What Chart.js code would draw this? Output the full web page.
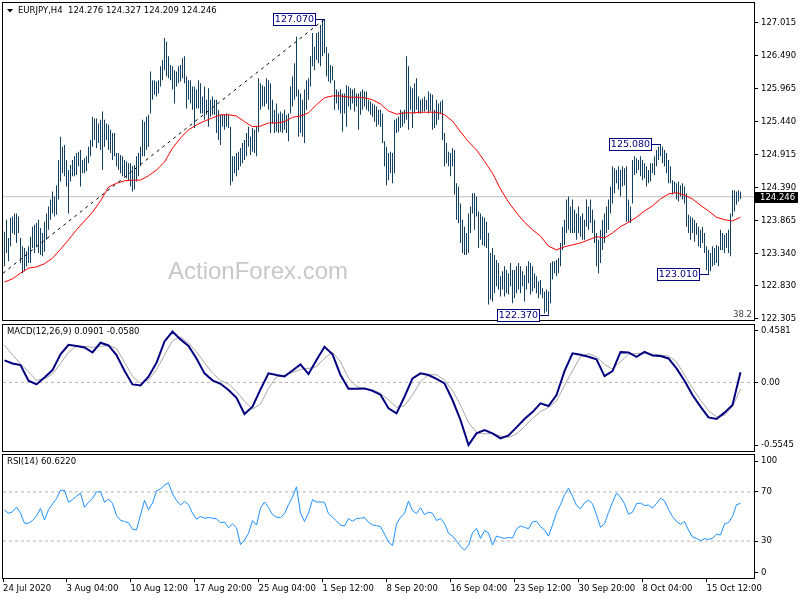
<!DOCTYPE html>
<html lang="en">
<head>
<meta charset="UTF-8">
<title>EURJPY H4</title>
<script src="https://cdn.jsdelivr.net/npm/chart.js@4.4.0/dist/chart.umd.min.js"></script>
<style>
  html, body { margin: 0; padding: 0; background: #fff; }
  #wrap { position: relative; width: 800px; height: 600px; overflow: hidden; }
  canvas { position: absolute; left: 0; }
</style>
</head>
<body>
<div id="wrap">
  <canvas id="main" width="800" height="323" style="top:0px"></canvas>
  <canvas id="macd" width="800" height="132" style="top:322px"></canvas>
  <canvas id="rsi" width="800" height="148" style="top:452px"></canvas>
</div>
<script>
// EURJPY H4 bars (one bar per entry)
const highs = [
  123.69,123.88,123.59,123.91,123.93,123.98,123.98,123.93,123.59,123.46,
  123.43,123.38,123.46,123.61,123.77,123.80,123.83,123.88,123.75,123.67,
  123.85,123.98,124.09,124.20,124.33,124.25,124.43,124.83,125.20,125.04,
  125.07,124.83,124.67,124.75,124.83,124.89,124.94,124.96,124.99,124.83,
  124.86,124.89,125.04,125.15,125.52,125.49,125.49,125.41,125.47,125.60,
  125.47,125.41,125.39,125.31,125.26,125.26,124.94,124.94,124.91,124.89,
  124.83,124.81,124.78,124.78,124.73,124.75,124.89,124.94,125.04,125.47,
  125.44,125.52,125.55,126.24,126.10,126.10,126.08,126.10,126.32,126.42,
  126.77,126.71,126.48,126.34,126.32,126.26,126.24,126.32,126.34,126.45,
  126.48,126.16,126.10,126.10,126.00,126.00,125.95,126.10,126.05,125.84,
  126.00,125.79,125.97,125.79,125.84,125.79,125.79,125.63,125.55,125.55,
  125.55,125.57,125.55,125.36,124.89,124.89,124.94,124.96,125.02,125.10,
  125.15,125.26,125.36,125.20,125.34,125.31,125.36,126.13,126.05,126.02,
  126.00,126.13,126.10,126.05,125.79,125.63,125.73,125.57,
  125.60,125.57,125.63,125.55,125.57,126.00,126.16,126.37,126.79,125.95,
  125.89,125.79,125.95,126.10,126.13,126.48,126.85,126.63,126.85,126.87,
  126.98,127.06,127.07,126.63,126.53,126.34,126.32,126.10,125.95,125.92,
  125.95,125.89,125.89,126.02,126.00,125.97,125.95,125.97,125.89,125.89,
  125.92,125.95,125.92,125.92,125.79,125.76,125.73,125.71,125.68,125.63,
  125.63,125.57,125.13,125.04,124.94,124.96,124.94,125.47,125.49,125.52,
  125.63,125.60,125.63,126.48,126.32,126.00,125.97,126.05,126.13,125.84,
  125.79,125.81,125.84,125.79,125.92,125.89,125.87,125.63,125.79,125.73,
  125.76,125.79,125.26,125.10,124.96,124.94,125.02,124.99,124.46,124.41,
  124.14,123.88,123.77,123.67,123.98,124.09,124.30,124.30,124.25,124.01,
  123.98,123.93,123.91,123.85,123.67,123.35,123.43,123.32,123.24,123.19,
  122.98,123.06,123.14,123.08,123.03,123.19,123.08,123.08,123.14,123.19,
  123.14,123.06,123.00,123.14,123.22,123.19,123.14,123.03,122.98,122.90,
  122.92,122.79,122.74,122.77,122.74,123.19,123.22,123.22,123.24,123.27,
  123.51,123.77,123.88,
  124.20,124.25,124.09,124.20,124.04,123.98,124.09,123.93,123.98,123.88,
  124.20,124.09,124.20,124.04,123.88,123.67,123.56,123.72,123.88,123.98,
  124.09,124.20,124.41,124.73,124.70,124.67,124.73,124.67,124.73,124.70,
  124.73,124.20,124.09,124.83,124.89,124.86,124.83,124.89,124.83,124.78,
  124.73,124.67,124.78,124.78,124.89,124.99,125.04,125.08,125.04,124.99,
  124.94,124.83,124.73,124.51,124.49,124.46,124.49,124.43,124.46,124.41,
  124.30,123.96,123.93,123.91,123.88,123.83,123.77,123.72,123.77,123.67,
  123.46,123.40,123.35,123.46,123.43,123.48,123.46,123.72,123.67,123.64,
  123.67,123.72,123.98,124.35,124.35,124.33,124.35,124.327
];
const lows = [
  123.14,123.35,123.22,123.46,123.67,123.64,123.51,123.67,123.19,123.03,
  123.06,123.14,123.19,123.19,123.43,123.35,123.46,123.35,123.32,123.30,
  123.37,123.56,123.72,123.88,123.98,123.93,123.96,124.20,124.49,124.62,
  124.57,124.41,123.98,124.49,124.57,124.57,124.59,124.73,124.41,124.62,
  124.62,124.65,124.78,124.89,125.04,125.15,125.02,125.10,124.99,124.67,
  125.04,125.15,124.99,124.94,124.83,124.89,124.73,124.67,124.62,124.57,
  124.57,124.54,124.51,124.41,124.33,124.36,124.49,124.57,124.73,124.89,
  124.89,124.99,125.04,125.57,125.79,125.87,125.84,125.89,126.00,126.10,
  126.26,126.16,126.13,126.10,125.95,125.73,126.00,126.05,126.08,126.13,
  126.05,125.65,125.79,125.73,125.63,125.34,125.65,125.65,125.57,125.57,
  125.47,125.55,125.36,125.52,125.55,125.55,125.26,125.15,125.07,125.36,
  125.31,125.36,125.34,124.43,124.49,124.62,124.57,124.67,124.73,124.78,
  124.83,124.89,125.04,124.91,124.96,124.94,124.89,125.28,125.63,125.68,
  125.68,125.73,125.63,125.26,125.41,125.26,125.28,125.26,
  125.28,125.26,125.31,125.26,125.13,125.57,125.68,125.79,125.84,125.20,
  125.26,125.20,125.10,125.63,125.79,126.00,126.32,126.26,126.42,126.37,
  126.32,126.48,126.53,126.16,126.08,126.05,126.10,125.63,125.73,125.63,
  125.57,125.28,125.57,125.36,125.68,125.63,125.73,125.60,125.68,125.31,
  125.55,125.63,125.68,125.63,125.60,125.55,125.52,125.44,125.36,125.39,
  125.36,125.10,124.73,124.43,124.51,124.62,124.46,124.62,125.26,125.28,
  125.34,125.36,125.41,125.47,125.31,125.63,125.34,125.57,125.63,125.57,
  125.57,125.60,125.60,125.63,125.57,125.60,125.31,125.34,125.39,125.47,
  125.57,125.15,124.73,124.78,124.73,124.57,124.73,124.28,123.88,123.83,
  123.51,123.35,123.32,123.32,123.35,123.67,123.98,123.72,123.93,123.43,
  123.56,123.48,123.46,123.43,122.53,122.61,122.58,122.71,122.82,122.77,
  122.66,122.77,122.66,122.71,122.69,122.82,122.55,122.63,122.71,122.77,
  122.71,122.82,122.58,122.77,122.87,122.69,122.74,122.79,122.71,122.63,
  122.69,122.63,122.39,122.42,122.37,122.55,122.93,123.03,122.98,123.03,
  123.14,123.40,123.48,
  123.67,123.72,123.67,123.67,123.67,123.56,123.67,123.61,123.56,123.56,
  123.77,123.72,123.83,123.67,123.51,123.14,123.03,123.19,123.40,123.51,
  123.67,123.72,123.98,124.14,124.30,124.46,124.36,124.25,124.41,124.43,
  123.85,123.85,123.83,124.14,124.59,124.62,124.67,124.57,124.51,124.54,
  124.41,124.46,124.49,124.62,124.59,124.73,124.83,124.89,124.78,124.73,
  124.62,124.46,124.46,124.28,124.30,124.20,124.17,124.25,124.20,124.14,
  123.77,123.67,123.56,123.67,123.53,123.64,123.46,123.43,123.51,123.35,
  123.08,123.01,123.06,123.14,123.16,123.19,123.14,123.40,123.40,123.35,
  123.43,123.35,123.30,123.93,124.01,124.12,124.17,124.209
];

// red moving average, one reading every 4 bars
const maStep = 4;
const maValues = [
  122.89,122.94,123.03,123.11,123.13,123.18,123.27,123.41,123.56,123.72,
  123.86,124.00,124.18,124.40,124.46,124.50,124.51,124.51,124.58,124.67,
  124.80,125.02,125.18,125.31,125.39,125.45,125.50,125.55,125.55,125.53,
  125.44,125.36,125.37,125.42,125.42,125.44,125.51,125.53,125.58,125.71,
  125.82,125.85,125.85,125.83,125.83,125.82,125.79,125.72,125.61,125.56,
  125.58,125.58,125.59,125.59,125.59,125.55,125.45,125.28,125.12,124.99,
  124.81,124.62,124.37,124.16,123.99,123.84,123.72,123.62,123.46,123.40,
  123.45,123.48,123.51,123.56,123.61,123.59,123.67,123.77,123.84,123.92,
  124.02,124.10,124.21,124.29,124.31,124.27,124.21,124.11,124.02,123.92,
  123.88,123.86,123.92
];

// trendline from the July low to the 127.070 top: [bar, price]
const trendFrom = [-0.75, 123.03];
const trendTo = [160, 127.07];
const bidPrice = 124.246;

// MACD(12,26,9): main and signal, one reading every 4 bars
const macdStep = 4;
const macdValues = [
  0.195,0.168,0.153,0.015,-0.018,0.044,0.109,0.248,0.333,0.322,
  0.310,0.265,0.351,0.327,0.242,0.103,-0.018,-0.027,0.050,0.174,
  0.363,0.450,0.381,0.322,0.212,0.080,0.018,-0.012,-0.068,-0.136,
  -0.280,-0.215,-0.062,0.080,0.065,0.053,0.106,0.159,0.074,0.198,
  0.316,0.248,0.065,-0.056,-0.056,-0.053,-0.074,-0.109,-0.230,-0.274,
  -0.127,0.035,0.080,0.065,0.032,-0.009,-0.156,-0.333,-0.555,-0.451,
  -0.422,-0.451,-0.496,-0.469,-0.398,-0.324,-0.263,-0.186,-0.209,-0.112,
  0.100,0.257,0.245,0.227,0.204,0.056,0.100,0.268,0.265,0.227,
  0.271,0.239,0.233,0.212,0.124,0.015,-0.112,-0.215,-0.310,-0.324,
  -0.268,-0.201,0.0901
];
const signalValues = [
  0.330,0.242,0.165,0.094,0.018,0.032,0.074,0.168,0.265,0.322,
  0.319,0.310,0.319,0.327,0.301,0.177,0.053,-0.009,0.021,0.112,
  0.242,0.369,0.404,0.348,0.271,0.174,0.083,0.018,-0.015,-0.080,
  -0.168,-0.236,-0.192,-0.053,0.050,0.062,0.088,0.115,0.124,0.139,
  0.215,0.265,0.183,0.038,-0.035,-0.062,-0.068,-0.097,-0.156,-0.221,
  -0.206,-0.112,0.006,0.068,0.068,0.021,-0.071,-0.201,-0.357,-0.442,
  -0.457,-0.451,-0.475,-0.487,-0.457,-0.392,-0.319,-0.260,-0.221,-0.165,
  -0.027,0.103,0.227,0.254,0.227,0.159,0.118,0.183,0.248,0.257,
  0.257,0.251,0.242,0.233,0.183,0.065,-0.053,-0.156,-0.251,-0.304,
  -0.292,-0.215,-0.058
];

// RSI(14), one reading every 2 bars
const rsiStep = 2;
const rsiValues = [
  55.2,52.7,53.8,57.6,52.7,44.5,44.5,46.7,50.5,56.5,
  47.2,55.5,60.1,64.5,71.3,71.3,61.5,63.7,66.4,69.1,
  57.4,61.5,64.8,70.0,70.2,61.5,64.2,60.7,50.8,47.0,
  45.9,45.0,39.6,39.0,51.3,63.1,55.5,60.9,70.8,72.4,
  75.7,77.4,68.3,63.1,59.3,62.3,59.6,52.7,47.8,50.0,
  48.6,49.2,48.6,48.1,45.0,45.6,40.9,43.9,40.9,27.2,
  30.8,36.3,46.7,43.1,56.8,61.8,57.4,51.6,49.4,49.2,
  52.2,59.6,65.9,74.1,52.7,45.9,52.7,63.7,61.8,61.8,
  61.5,52.2,49.4,46.4,42.9,42.3,48.3,46.1,48.3,48.6,
  49.2,45.3,43.1,42.6,41.8,35.7,29.2,26.4,43.9,49.4,
  52.7,62.6,54.9,52.4,57.1,51.6,53.5,52.7,46.7,48.3,
  44.5,36.3,34.1,30.3,25.9,22.6,26.4,36.8,40.4,32.2,
  38.5,36.8,26.7,34.1,33.0,32.2,33.0,32.5,39.8,42.3,
  41.2,40.1,45.6,46.1,41.8,39.0,34.1,43.1,53.0,59.6,
  67.8,73.0,66.4,59.0,56.3,61.2,63.4,60.4,51.3,41.2,
  44.2,53.3,61.5,68.9,65.8,60.4,51.9,53.5,60.4,60.9,
  59.0,59.3,56.8,60.6,64.8,62.8,55.7,50.0,45.9,43.7,
  45.9,39.0,33.3,32.2,30.3,31.9,31.4,32.2,35.7,34.9,
  43.9,45.0,50.0,59.6,60.622
];

// axes
const priceTicks = [127.015, 126.49, 125.965, 125.44, 124.915, 124.39, 123.865, 123.34, 122.83, 122.305];
const macdTicks = [0.4581, 0, -0.5545];
const macdTickLabels = ['0.4581', '0.00', '-0.5545'];
const macdLevels = [0];
const rsiTicks = [95.1, 70, 30, 4.6];
const rsiTickLabels = ['100', '70', '30', '0'];
const rsiLevels = [70, 30];
const timeBars = [-0.75, 31, 63, 95, 127, 159, 191, 223, 255, 287, 319, 351];
const timeLabels = ['24 Jul 2020', '3 Aug 04:00', '10 Aug 12:00', '17 Aug 20:00', '25 Aug 04:00', '1 Sep 12:00',
  '8 Sep 20:00', '16 Sep 04:00', '23 Sep 12:00', '30 Sep 20:00', '8 Oct 04:00', '15 Oct 12:00'];

// swing highs / lows marked on the chart
const swingBars = [160, 272, 328, 352];
const swingPrices = [127.07, 122.37, 125.08, 123.01];

const title = 'EURJPY,H4  124.276 124.327 124.209 124.246';
const macdTitle = 'MACD(12,26,9) 0.0901 -0.0580';
const rsiTitle = 'RSI(14) 60.6220';

const xMin = -0.75, xMax = 374.75;
const FONT = 'DejaVu Sans';
const tickFont = { family: FONT, size: 8.5 };

function drawFrame(chart) {
  const a = chart.chartArea, ctx = chart.ctx;
  ctx.save();
  ctx.strokeStyle = '#000';
  ctx.lineWidth = 1;
  ctx.strokeRect(a.left - 0.5, a.top - 0.5, a.right - a.left + 1, a.bottom - a.top + 1);
  ctx.restore();
}

function rightAxis(min, max, ticks, labels) {
  return {
    position: 'right', min: min, max: max,
    afterBuildTicks: s => { s.ticks = ticks.map(v => ({ value: v })); },
    afterFit: s => { s.width = 46; s.paddingTop = 0; s.paddingBottom = 0; },
    ticks: { callback: (v, i) => labels[i], font: tickFont, color: '#000', padding: 3, autoSkip: false },
    grid: { drawOnChartArea: false, drawTicks: true, tickLength: 4, color: '#000' },
    border: { display: false }
  };
}

function levelLine(v) {
  return [{ x: xMin, y: v }, { x: xMax, y: v }];
}

const hiddenX = { type: 'linear', min: xMin, max: xMax, display: false, offset: false };
const common = {
  responsive: false,
  animation: false,
  events: [],
  plugins: { legend: { display: false }, tooltip: { enabled: false } },
  layout: { padding: { left: 3, top: 3, right: 0, bottom: 3 } }
};

const mainDecor = {
  id: 'mainDecor',
  beforeDatasetsDraw(chart) {
    const ctx = chart.ctx;
    ctx.save();
    ctx.font = '24px "Liberation Sans", Arial, sans-serif';
    ctx.fillStyle = '#c8c8c8';
    ctx.textBaseline = 'alphabetic';
    ctx.fillText('ActionForex.com', 168, 279);
    ctx.restore();
  },
  afterDraw(chart) {
    const ctx = chart.ctx, a = chart.chartArea;
    const xs = chart.scales.x, ys = chart.scales.y;
    drawFrame(chart);
    ctx.save();
    // title
    ctx.fillStyle = '#000';
    ctx.beginPath();
    ctx.moveTo(7, 9); ctx.lineTo(13, 9); ctx.lineTo(10, 12.5); ctx.closePath();
    ctx.fill();
    ctx.font = '8.5px "' + FONT + '"';
    ctx.textBaseline = 'middle';
    ctx.fillText(title, 18, 11);

    // swing labels
    ctx.font = '9.5px "' + FONT + '"';
    ctx.lineWidth = 1;
    swingBars.forEach((b, k) => {
      const bx = xs.getPixelForValue(b);
      const by = Math.round(ys.getPixelForValue(swingPrices[k])) + 0.5;
      const right = bx - 9, left = right - 42;
      ctx.fillStyle = '#fff';
      ctx.fillRect(left, by - 6, 42, 12);
      ctx.strokeStyle = '#000080';
      ctx.strokeRect(left, by - 6, 42, 12);
      ctx.beginPath(); ctx.moveTo(right, by); ctx.lineTo(bx + 0.5, by); ctx.stroke();
      ctx.fillStyle = '#000080';
      ctx.textAlign = 'center';
      ctx.fillText(swingPrices[k].toFixed(3), left + 21, by + 0.5);
    });

    // current bid on the price axis
    const py = Math.round(ys.getPixelForValue(bidPrice));
    ctx.fillStyle = '#000';
    ctx.fillRect(a.right + 1, py - 5, 43, 11);
    ctx.fillStyle = '#fff';
    ctx.textAlign = 'left';
    ctx.font = '8.5px "' + FONT + '"';
    ctx.fillText(bidPrice.toFixed(3), a.right + 6, py + 0.5);

    // fibo level tag
    ctx.fillStyle = '#404040';
    ctx.textAlign = 'right';
    ctx.fillText('38.2', a.right - 2, 315);
    ctx.restore();
  }
};

function subDecor(text) {
  return {
    id: 'subDecor',
    afterDraw(chart) {
      drawFrame(chart);
      const ctx = chart.ctx;
      ctx.save();
      ctx.font = '8.5px "' + FONT + '"';
      ctx.fillStyle = '#000';
      ctx.textBaseline = 'middle';
      ctx.fillText(text, 7, chart.chartArea.top + 7);
      ctx.restore();
    }
  };
}

new Chart(document.getElementById('main'), {
  type: 'bar',
  data: {
    datasets: [
      { type: 'line', order: 0, data: [{ x: trendFrom[0], y: trendFrom[1] }, { x: trendTo[0], y: trendTo[1] }],
        borderColor: '#000', borderWidth: 1, borderDash: [3, 4], pointRadius: 0 },
      { type: 'line', order: 1, data: maValues.map((v, k) => ({ x: k * maStep, y: v })),
        borderColor: '#ff0000', borderWidth: 1, pointRadius: 0, tension: 0 },
      { type: 'bar', order: 2, data: highs.map((h, i) => ({ x: i, y: [lows[i], h] })),
        backgroundColor: '#134060', borderWidth: 0, barThickness: 1, inflateAmount: 0 },
      { type: 'line', order: 3, data: levelLine(bidPrice),
        borderColor: '#c0c0c0', borderWidth: 1, pointRadius: 0 }
    ]
  },
  options: Object.assign({}, common, {
    scales: {
      x: hiddenX,
      y: rightAxis(122.285, 127.328, priceTicks, priceTicks.map(v => v.toFixed(3)))
    }
  }),
  plugins: [mainDecor]
});

new Chart(document.getElementById('macd'), {
  type: 'line',
  data: {
    datasets: [
      { order: 0, data: macdValues.map((v, k) => ({ x: k * macdStep, y: v })),
        borderColor: '#000080', borderWidth: 2, pointRadius: 0 },
      { order: 1, data: signalValues.map((v, k) => ({ x: k * macdStep, y: v })),
        borderColor: '#a8a8a8', borderWidth: 1, pointRadius: 0 },
      ...macdLevels.map(v => ({ order: 2, data: levelLine(v), borderColor: '#b4b4b4',
        borderWidth: 1, borderDash: [3, 3], pointRadius: 0 }))
    ]
  },
  options: Object.assign({}, common, {
    scales: {
      x: hiddenX,
      y: rightAxis(-0.6076, 0.5084, macdTicks, macdTickLabels)
    }
  }),
  plugins: [subDecor(macdTitle)]
});

new Chart(document.getElementById('rsi'), {
  type: 'line',
  data: {
    datasets: [
      { order: 0, data: rsiValues.map((v, k) => ({ x: k * rsiStep, y: v })),
        borderColor: '#1e90ff', borderWidth: 1, pointRadius: 0 },
      ...rsiLevels.map(v => ({ order: 1, data: levelLine(v), borderColor: '#b4b4b4',
        borderWidth: 1, borderDash: [3, 3], pointRadius: 0 }))
    ]
  },
  options: Object.assign({}, common, {
    layout: { padding: { left: 3, top: 3, right: 0, bottom: 0 } },
    scales: {
      x: {
        type: 'linear', min: xMin, max: xMax, offset: false, position: 'bottom',
        afterBuildTicks: s => { s.ticks = timeBars.map(v => ({ value: v })); },
        afterFit: s => { s.height = 22; s.paddingLeft = 0; s.paddingRight = 0; },
        ticks: { callback: (v, i) => timeLabels[i], font: tickFont, color: '#000', padding: 2,
          align: 'start', autoSkip: false, maxRotation: 0, minRotation: 0 },
        grid: { drawOnChartArea: false, drawTicks: true, tickLength: 4, color: '#000' },
        border: { display: false }
      },
      y: rightAxis(0, 100, rsiTicks, rsiTickLabels)
    }
  }),
  plugins: [subDecor(rsiTitle)]
});
</script>
</body>
</html>
